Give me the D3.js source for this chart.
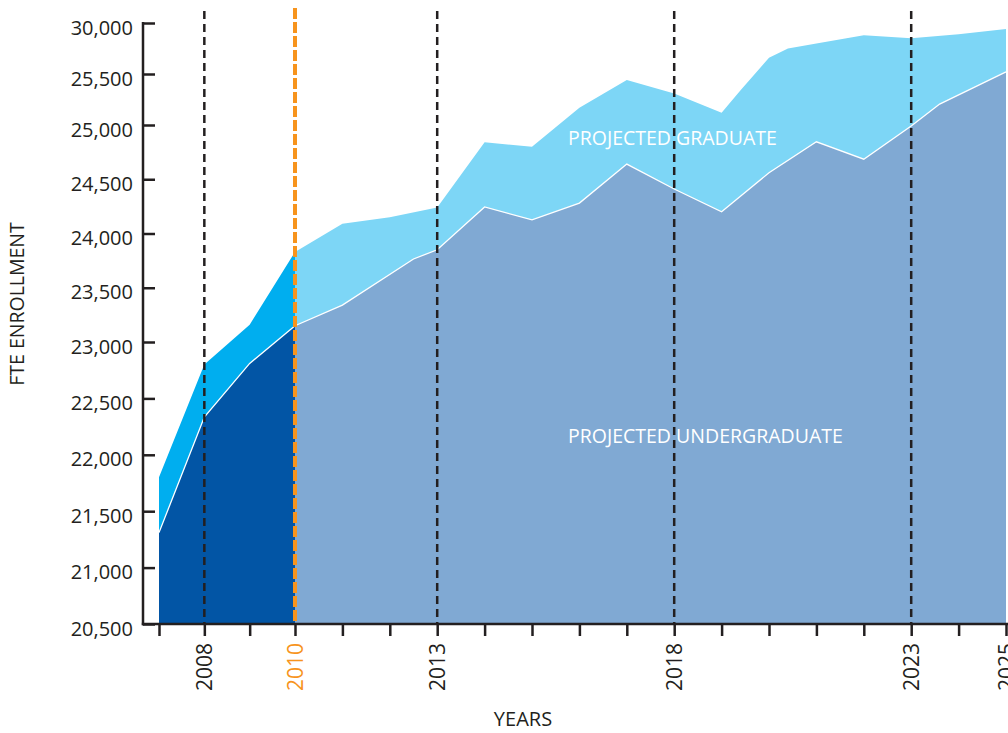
<!DOCTYPE html>
<meta charset="utf-8">
<style>
  body { margin: 0; background: #fff; }
  text { font-family: "Open Sans", "Noto Sans", sans-serif; }
</style>

<!-- Load d3.js -->
<script src="https://d3js.org/d3.v7.min.js"></script>

<div id="chart"></div>

<script>
    // actual enrollment (2007-2010)
    var actualYears     = [2007, 2008, 2009, 2010];
    var actualTotal     = [21800, 22800, 23160, 23830];
    var actualUndergrad = [21310, 22335, 22810, 23150];

    // projected enrollment, top edge (undergraduate + graduate)
    var projTotalYears = [2010, 2011, 2012, 2013, 2014, 2015, 2016, 2017, 2018, 2019, 2019.4,
                          2020, 2020.4, 2021, 2022, 2023, 2024, 2025];
    var projTotal      = [23830, 24090, 24150, 24240, 24840, 24800, 25170, 25440, 25310, 25120, 25340,
                          25660, 25750, 25800, 25880, 25850, 25890, 25940];

    // projected undergraduate
    var projUndergradYears = [2010, 2011, 2012.5, 2013, 2014, 2015, 2016, 2017, 2018, 2019,
                              2020, 2021, 2022, 2023, 2023.6, 2025];
    var projUndergrad      = [23150, 23340, 23765, 23850, 24245, 24125, 24280, 24640, 24410, 24200,
                              24560, 24845, 24685, 24990, 25205, 25520];

    // axes
    var yTickValues = [20500, 21000, 21500, 22000, 22500, 23000, 23500, 24000, 24500, 25000, 25500, 26000];
    var yTickLabels = ["20,500", "21,000", "21,500", "22,000", "22,500", "23,000",
                       "23,500", "24,000", "24,500", "25,000", "25,500", "30,000"];
    var xTickYears  = [2007, 2008, 2009, 2010, 2011, 2012, 2013, 2014, 2015, 2016,
                       2017, 2018, 2019, 2020, 2021, 2022, 2023, 2024, 2025];
    var labeledYears = [2008, 2010, 2013, 2018, 2023, 2025];
    var markerYears  = [2008, 2013, 2018, 2023];
    var currentYear  = 2010;

    var width = 1008, height = 733;
    var axisX = 143, axisY = 624;
    var ink = "#231f20", orange = "#f7941d";

    var svg = d3.select("#chart")
      .append("svg")
        .attr("width", width)
        .attr("height", height);

    // scales (the printed axis is not quite uniform, so use a few break points)
    var x = d3.scaleLinear()
      .domain([2007, 2010, 2025])
      .range([159, 295, 1006]);

    var y = d3.scaleLinear()
      .domain([20500, 23000, 25000, 26000])
      .range([axisY, 342, 125, 23]);

    function pts(years, vals) {
      return years.map(function(yr, i) { return {year: yr, value: vals[i]}; });
    }

    var area = d3.area()
      .x(function(d) { return x(d.year); })
      .y0(y(20500))
      .y1(function(d) { return y(d.value); });

    var line = d3.line()
      .x(function(d) { return x(d.year); })
      .y(function(d) { return y(d.value); });

    // projected areas
    svg.append("path")
      .datum(pts(projTotalYears, projTotal))
      .attr("d", area)
      .attr("fill", "#7dd6f6");

    svg.append("path")
      .datum(pts(projUndergradYears, projUndergrad))
      .attr("d", area)
      .attr("fill", "#80a9d3");

    svg.append("path")
      .datum(pts(projUndergradYears, projUndergrad))
      .attr("d", line)
      .attr("fill", "none")
      .attr("stroke", "#fff")
      .attr("stroke-width", 1.3);

    // actual areas
    svg.append("path")
      .datum(pts(actualYears, actualTotal))
      .attr("d", area)
      .attr("fill", "#00aeef");

    svg.append("path")
      .datum(pts(actualYears, actualUndergrad))
      .attr("d", area)
      .attr("fill", "#0255a5");

    svg.append("path")
      .datum(pts(actualYears, actualUndergrad))
      .attr("d", line)
      .attr("fill", "none")
      .attr("stroke", "#fff")
      .attr("stroke-width", 1.3);

    // area labels
    svg.append("text")
      .attr("x", 568).attr("y", 145)
      .style("font-size", "19.5px")
      .style("fill", "#fff")
      .text("PROJECTED GRADUATE");

    svg.append("text")
      .attr("x", 568).attr("y", 443)
      .style("font-size", "19.5px")
      .style("fill", "#fff")
      .text("PROJECTED UNDERGRADUATE");

    // dashed year markers
    svg.selectAll(".marker")
      .data(markerYears)
      .enter()
      .append("line")
        .attr("class", "marker")
        .attr("x1", function(d) { return x(d); })
        .attr("x2", function(d) { return x(d); })
        .attr("y1", 11)
        .attr("y2", axisY)
        .attr("stroke", ink)
        .attr("stroke-width", 2.5)
        .attr("stroke-dasharray", "8,5");

    svg.append("line")
      .attr("x1", x(currentYear)).attr("x2", x(currentYear))
      .attr("y1", 8).attr("y2", axisY)
      .attr("stroke", orange)
      .attr("stroke-width", 4)
      .attr("stroke-dasharray", "11,3");

    // Y axis
    var yAxis = svg.append("g")
      .attr("transform", "translate(" + axisX + ",0)")
      .call(d3.axisLeft(y)
        .tickValues(yTickValues)
        .tickFormat(function(d, i) { return yTickLabels[i]; })
        .tickSize(-12)
        .tickPadding(10));
    yAxis.select(".domain").remove();
    yAxis.selectAll("line").attr("stroke", ink).attr("stroke-width", 2.5);
    yAxis.selectAll("text")
      .attr("dy", "0.55em")
      .style("font-size", "20px")
      .style("font-family", "'Open Sans', sans-serif")
      .style("fill", ink);

    svg.append("line")
      .attr("x1", axisX).attr("x2", axisX)
      .attr("y1", y(26000) - 1).attr("y2", axisY + 1.2)
      .attr("stroke", ink).attr("stroke-width", 2.5);

    // X axis
    var xAxis = svg.append("g")
      .attr("transform", "translate(0," + axisY + ")")
      .call(d3.axisBottom(x)
        .tickValues(xTickYears)
        .tickFormat(function(d) { return labeledYears.indexOf(d) >= 0 ? d : ""; })
        .tickSize(12));
    xAxis.select(".domain").remove();
    xAxis.selectAll("line").attr("stroke", ink).attr("stroke-width", 2.5);
    xAxis.selectAll("text")
      .attr("transform", "rotate(-90)")
      .attr("x", -19)
      .attr("y", 0)
      .attr("dy", "0.36em")
      .style("text-anchor", "end")
      .style("font-size", "21px")
      .style("font-family", "'Open Sans', sans-serif")
      .style("fill", function(d) { return d === currentYear ? orange : ink; });

    svg.append("line")
      .attr("x1", axisX - 1.2).attr("x2", width)
      .attr("y1", axisY).attr("y2", axisY)
      .attr("stroke", ink).attr("stroke-width", 2.5);

    // axis titles
    svg.append("text")
      .attr("transform", "translate(24,304) rotate(-90)")
      .style("text-anchor", "middle")
      .style("font-size", "19.5px")
      .style("fill", ink)
      .text("FTE ENROLLMENT");

    svg.append("text")
      .attr("x", 523).attr("y", 726)
      .style("text-anchor", "middle")
      .style("font-size", "20px")
      .style("fill", ink)
      .text("YEARS");
</script>
